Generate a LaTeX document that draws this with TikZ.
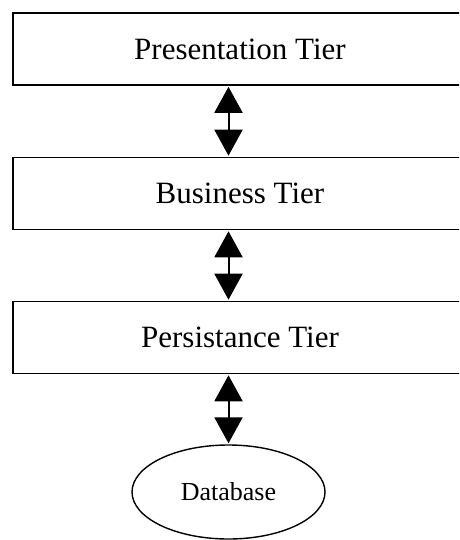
\documentclass[tikz,border=0pt]{standalone}
\usepackage{fontspec}
\setmainfont{Liberation Serif}
\usetikzlibrary{arrows.meta,shapes.geometric}
\tikzset{
  tierbox/.style={draw, line width=1.6pt, minimum width=454pt, minimum height=72pt, inner sep=0pt, font=\fontsize{31}{36}\selectfont},
  dbnode/.style={draw, ellipse, line width=1.4pt, minimum width=193pt, minimum height=94pt, inner sep=0pt, font=\fontsize{26}{30}\selectfont},
  dblarrow/.style={line width=2pt, {Triangle[length=26pt,width=28pt]}-{Triangle[length=26pt,width=28pt]}, shorten <=1pt, shorten >=1pt}
}
\begin{document}
\begin{tikzpicture}[x=1pt,y=-1pt]
\useasboundingbox (0,0) rectangle (459,540);
\clip (0,0) rectangle (459,540);
\node[tierbox] (pres) at (240,49) {Presentation Tier};
\node[tierbox] (bus) at (240,193.5) {Business Tier};
\node[tierbox] (pers) at (240,337.5) {Persistance Tier};
\node[dbnode] (db) at (228.5,492) {Database};
\draw[dblarrow] (db |- pres.south) -- (db |- bus.north);
\draw[dblarrow] (db |- bus.south) -- (db |- pers.north);
\draw[dblarrow] (db |- pers.south) -- (db.north);
\end{tikzpicture}
\end{document}
